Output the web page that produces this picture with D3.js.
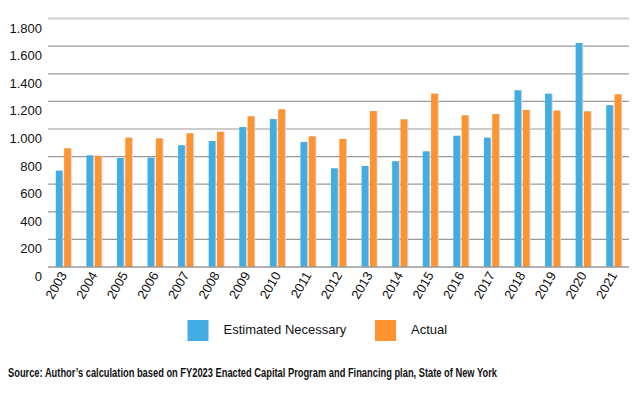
<!DOCTYPE html>
<html>
<head>
<meta charset="utf-8">
<script src="https://cdn.jsdelivr.net/npm/d3@7"></script>
<style>
  body { margin: 0; background: #fff; }
  svg { display: block; font-family: 'Liberation Sans', Arial, sans-serif; }
</style>
</head>
<body>
<svg id="chart" width="640" height="398"></svg>
<script>
const years = ['2003', '2004', '2005', '2006', '2007', '2008', '2009', '2010', '2011', '2012',
  '2013', '2014', '2015', '2016', '2017', '2018', '2019', '2020', '2021']
const estimated = [698, 809, 790, 792, 882, 913, 1014, 1072, 906, 715,
  732, 766, 838, 951, 937, 1280, 1256, 1623, 1172]
const actual = [860, 806, 937, 932, 969, 980, 1092, 1143, 947, 928,
  1130, 1070, 1256, 1099, 1109, 1138, 1133, 1128, 1251]
const yTicks = [0, 200, 400, 600, 800, 1000, 1200, 1400, 1600, 1800]
const seriesNames = ['Estimated Necessary', 'Actual']
const colours = ['#41ade3', '#fe9330']

const svg = d3.select('#chart')
const margin = { left: 48, right: 11, top: 18.6, bottom: 131 }
const plotW = 640 - margin.left - margin.right
const plotH = 398 - margin.top - margin.bottom

const x = d3.scaleBand().domain(years).range([margin.left, margin.left + plotW]).paddingInner(0).paddingOuter(0)
const inner = d3.scaleBand().domain([0, 1]).range([x.bandwidth() / 2 - 7.5, x.bandwidth() / 2 + 7.5]).paddingInner(0.2)
const y = d3.scaleLinear().domain([0, 1800]).range([margin.top + plotH, margin.top])

// gridlines
svg.append('g')
  .selectAll('line')
  .data(yTicks.filter((d) => d > 0))
  .join('line')
  .attr('x1', margin.left)
  .attr('x2', margin.left + plotW)
  .attr('y1', (d) => y(d))
  .attr('y2', (d) => y(d))
  .attr('stroke', (d) => (d === 1800 ? '#d0d0d0' : '#999'))
  .attr('stroke-width', (d) => (d === 1800 ? 2 : 1.2))

// y tick labels (sit just below each gridline)
svg.append('g')
  .selectAll('text')
  .data(yTicks)
  .join('text')
  .attr('x', 42)
  .attr('y', (d) => y(d) + 14)
  .attr('text-anchor', 'end')
  .attr('font-size', 13)
  .attr('fill', '#111')
  .text((d) => d3.format(',')(d).replace(/,/g, '.'))

// bars
const group = svg.append('g')
  .selectAll('g')
  .data(years)
  .join('g')
  .attr('transform', (d) => `translate(${x(d)},0)`)

const rows = (yr, i) => [estimated[i], actual[i]].map((v, k) => ({ k, v }))

group.selectAll('rect.shadow')
  .data(rows)
  .join('rect')
  .classed('shadow', true)
  .attr('x', (d) => inner(d.k) + 1)
  .attr('y', (d) => y(d.v))
  .attr('width', inner.bandwidth())
  .attr('height', (d) => y(0) - y(d.v))
  .attr('fill', '#d4d4d4')

group.selectAll('rect.bar')
  .data(rows)
  .join('rect')
  .classed('bar', true)
  .attr('x', (d) => inner(d.k))
  .attr('y', (d) => y(d.v))
  .attr('width', inner.bandwidth())
  .attr('height', (d) => y(0) - y(d.v))
  .attr('fill', (d) => colours[d.k])

// baseline
svg.append('line')
  .attr('x1', margin.left)
  .attr('x2', margin.left + plotW)
  .attr('y1', y(0))
  .attr('y2', y(0))
  .attr('stroke', '#999')
  .attr('stroke-width', 1.5)

// x tick labels, rotated
svg.append('g')
  .selectAll('text')
  .data(years)
  .join('text')
  .attr('transform', (d) => `translate(${x(d) + x.bandwidth() / 2 + 4},${y(0) + 8}) rotate(-60)`)
  .attr('text-anchor', 'end')
  .attr('font-size', 13)
  .attr('fill', '#111')
  .text((d) => d)

// legend
const legend = svg.append('g')
  .selectAll('g')
  .data(seriesNames)
  .join('g')
  .attr('transform', (d, i) => `translate(${[187.5, 375][i]},320)`)

legend.append('rect')
  .attr('width', 21)
  .attr('height', 21)
  .attr('fill', (d, i) => colours[i])

legend.append('text')
  .attr('x', 36)
  .attr('y', 14)
  .attr('font-size', 13)
  .attr('fill', '#111')
  .text((d) => d)

// source note
svg.append('text')
  .attr('x', 8)
  .attr('y', 376.5)
  .attr('font-size', 13)
  .attr('font-weight', 'bold')
  .attr('fill', '#111')
  .attr('textLength', 489)
  .attr('lengthAdjust', 'spacingAndGlyphs')
  .text('Source: Author\u2019s calculation based on FY2023 Enacted Capital Program and Financing plan, State of New York')
</script>
</body>
</html>
